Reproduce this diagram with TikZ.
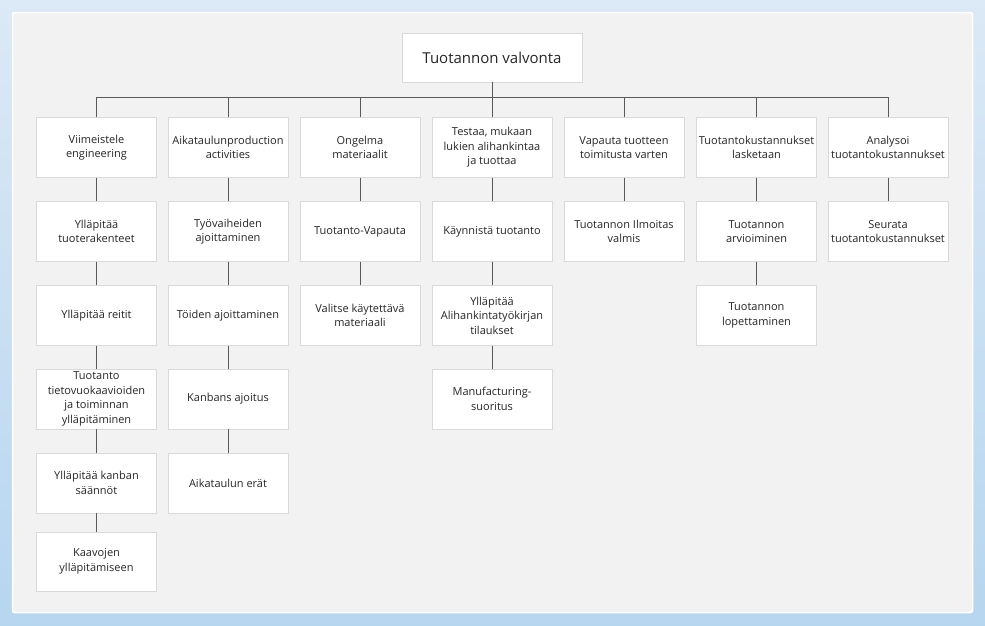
\documentclass[tikz,border=0pt]{standalone}
\usepackage{fontspec}
\setmainfont{Open Sans}
\definecolor{boxline}{HTML}{D9D9D9}
\definecolor{linecol}{HTML}{595959}
\definecolor{textcol}{HTML}{262626}
\definecolor{panel}{HTML}{F2F2F2}
\definecolor{bgtop}{HTML}{DCE9F6}
\definecolor{bgbottom}{HTML}{B6D6EF}
\begin{document}
\begin{tikzpicture}[x=1pt,y=-1pt,
    box/.style={draw=boxline,fill=white,line width=0.9pt,minimum width=120pt,
      minimum height=60pt,inner sep=1pt,align=center,text=textcol,
      font=\fontsize{11}{14.5}\selectfont},
    link/.style={draw=linecol,line width=1pt}]
  % background and panel
  \shade[top color=bgtop,bottom color=bgbottom,draw=none] (0,0) rectangle (985,625);
  \useasboundingbox (0,0) rectangle (985,625);
  \draw[white,line width=1.5pt,fill=panel,rounded corners=2pt] (12.5,12.5) rectangle (972.5,612.5);
  \coordinate (bus) at (0,97);
  \node[box,minimum width=180pt,minimum height=49pt,font=\fontsize{15}{18}\selectfont] (root) at (492,57.5) {Tuotannon valvonta};
  % first row
  \node[box] (a1) at (96.5,147.5) {Viimeistele\\engineering};
  \node[box] (b1) at (228,147.5) {Aikataulunproduction\\activities};
  \node[box] (c1) at (360,147.5) {Ongelma\\materiaalit};
  \node[box] (d1) at (492,147.5) {Testaa, mukaan\\lukien alihankintaa\\ja tuottaa};
  \node[box] (e1) at (624,147.5) {Vapauta tuotteen\\toimitusta varten};
  \node[box] (f1) at (756.5,147.5) {Tuotantokustannukset\\lasketaan};
  \node[box] (g1) at (888,147.5) {Analysoi\\tuotantokustannukset};
  % column a
  \node[box] (a2) at (96.5,231.5) {Ylläpitää\\tuoterakenteet};
  \node[box] (a3) at (96.5,315.5) {Ylläpitää reitit};
  \node[box] (a4) at (96.5,399) {Tuotanto\\tietovuokaavioiden\\ja toiminnan\\ylläpitäminen};
  \node[box] (a5) at (96.5,483) {Ylläpitää kanban\\säännöt};
  \node[box,minimum height=59pt] (a6) at (96.5,561.5) {Kaavojen\\ylläpitämiseen};
  % column b
  \node[box] (b2) at (228,231.5) {Työvaiheiden\\ajoittaminen};
  \node[box] (b3) at (228,315.5) {Töiden ajoittaminen};
  \node[box] (b4) at (228,399) {Kanbans ajoitus};
  \node[box] (b5) at (228,483) {Aikataulun erät};
  % column c
  \node[box] (c2) at (360,231.5) {Tuotanto-Vapauta};
  \node[box] (c3) at (360,315.5) {Valitse käytettävä\\materiaali};
  % column d
  \node[box] (d2) at (492,231.5) {Käynnistä tuotanto};
  \node[box] (d3) at (492,315.5) {Ylläpitää\\Alihankintatyökirjan\\tilaukset};
  \node[box] (d4) at (492,399) {Manufacturing-\\suoritus};
  % column e
  \node[box] (e2) at (624,231.5) {Tuotannon Ilmoitas\\valmis};
  % column f
  \node[box] (f2) at (756.5,231.5) {Tuotannon\\arvioiminen};
  \node[box] (f3) at (756.5,315.5) {Tuotannon\\lopettaminen};
  % column g
  \node[box] (g2) at (888,231.5) {Seurata\\tuotantokustannukset};
  \begin{scope}[link]
    \draw (root.south) -- (root.south |- bus);
    \draw (a1.north) -- (a1.north |- bus) -- (g1.north |- bus) -- (g1.north);
    \foreach \n in {b1,c1,d1,e1,f1}
      \draw (\n.north) -- (\n.north |- bus);
    \draw (a1) -- (a2);
    \draw (a2) -- (a3);
    \draw (a3) -- (a4);
    \draw (a4) -- (a5);
    \draw (a5) -- (a6);
    \draw (b1) -- (b2);
    \draw (b2) -- (b3);
    \draw (b3) -- (b4);
    \draw (b4) -- (b5);
    \draw (c1) -- (c2);
    \draw (c2) -- (c3);
    \draw (d1) -- (d2);
    \draw (d2) -- (d3);
    \draw (d3) -- (d4);
    \draw (e1) -- (e2);
    \draw (f1) -- (f2);
    \draw (f2) -- (f3);
    \draw (g1) -- (g2);
  \end{scope}
\end{tikzpicture}
\end{document}
